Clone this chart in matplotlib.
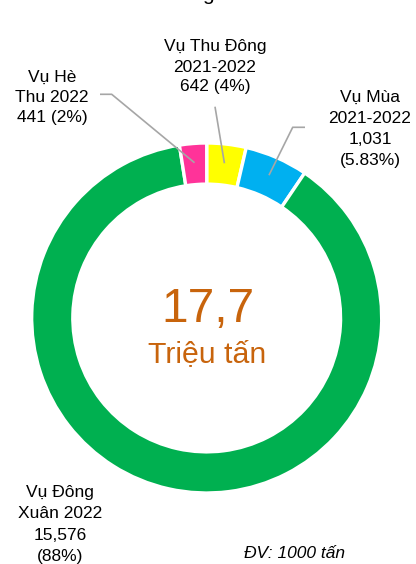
import matplotlib
matplotlib.use("Agg")
import matplotlib.pyplot as plt
import numpy as np

# ---------------- data ----------------
categories = ["Vụ Thu Đông", "Vụ Mùa", "Vụ Đông Xuân", "Vụ Hè Thu"]
values = [642, 1031, 15576, 441]          # 1000 tấn
pct_labels = ["4%", "5.83%", "88%", "2%"]
colors = ["#FFFF00", "#00B0F0", "#00B050", "#FF3399"]
unit_note = "ĐV: 1000 tấn"
center_unit = "Triệu tấn"

# ---------------- layout ----------------
W, H = 416, 564
CX, CY = 206.7, 318.0     # donut centre (px, from top-left)
R = 175.0                 # pixels per unit radius
FONT = "Liberation Sans"
plt.rcParams["font.family"] = [FONT, "DejaVu Sans"]

fig = plt.figure(figsize=(W / 100, H / 100), dpi=100)
ax = fig.add_axes([(CX - R) / W, (H - CY - R) / H, 2 * R / W, 2 * R / H])

wedges, _ = ax.pie(values, colors=colors, startangle=90, counterclock=False,
                   radius=1.0,
                   wedgeprops=dict(width=0.235, edgecolor="white", linewidth=2.4),
                   frame=False)
ax.set_xlim(-1, 1)
ax.set_ylim(-1, 1)
ax.set_aspect("equal")
ax.axis("off")


def ff(x, y):
    """pixel (from top-left) -> figure fraction"""
    return x / W, 1 - y / H


def pd(x, y):
    """pixel (from top-left) -> pie data coords"""
    return (x - CX) / R, (CY - y) / R


def lines_text(lines, cx, y0, step, size=12.5, **kw):
    for i, t in enumerate(lines):
        fig.text(*ff(cx, y0 + i * step), t, ha="center", va="baseline",
                 fontsize=size, color="#000000", **kw)


fmt = lambda v: f"{v:,}"
lbl = {
    0: ["Vụ Thu Đông", "2021-2022", f"{fmt(values[0])} ({pct_labels[0]})"],
    1: ["Vụ Mùa", "2021-2022", fmt(values[1]), f"({pct_labels[1]})"],
    2: ["Vụ Đông", "Xuân 2022", fmt(values[2]), f"({pct_labels[2]})"],
    3: ["Vụ Hè", "Thu 2022", f"{fmt(values[3])} ({pct_labels[3]})"],
}
lines_text(lbl[0], 215, 51.5, 20)
lines_text(lbl[1], 370, 101.7, 21.2)
lines_text(lbl[2], 60, 497.5, 21)
lines_text(lbl[3], 52, 81.7, 20.2)

# leader lines: from label to wedge middle
def wedge_mid(w, r=0.89):
    a = np.deg2rad((w.theta1 + w.theta2) / 2)
    return r * np.cos(a), r * np.sin(a)

lc = "#A6A6A6"
leaders = {
    3: [(100, 94.3), (111.7, 94.3)],
    0: [(215, 106.7)],
    1: [(305, 127.3), (292.7, 127.3)],
}
for i, pts in leaders.items():
    xy = [pd(*p) for p in pts] + [wedge_mid(wedges[i])]
    xs, ys = zip(*xy)
    ax.plot(xs, ys, color=lc, lw=1.2, clip_on=False, solid_capstyle="butt")

# centre text
total = sum(values) / 1000
ctext = f"{total:.1f}".replace(".", ",")
fig.text(*ff(208.3, 321.7), ctext, ha="center", va="baseline",
         fontsize=34.5, color="#C8640C")
fig.text(*ff(207.5, 361.7), center_unit, ha="center", va="baseline",
         fontsize=21.8, color="#C8640C")

# unit note
fig.text(*ff(294.5, 557.7), unit_note, ha="center", va="baseline",
         fontsize=12.5, style="italic", color="#000000")

# clipped title remnant at the very top
fig.text(*ff(207.5, 0.3), "g", ha="center", va="baseline", fontsize=15,
         color="#000000")

fig.savefig("out.png", dpi=100, facecolor="white")
